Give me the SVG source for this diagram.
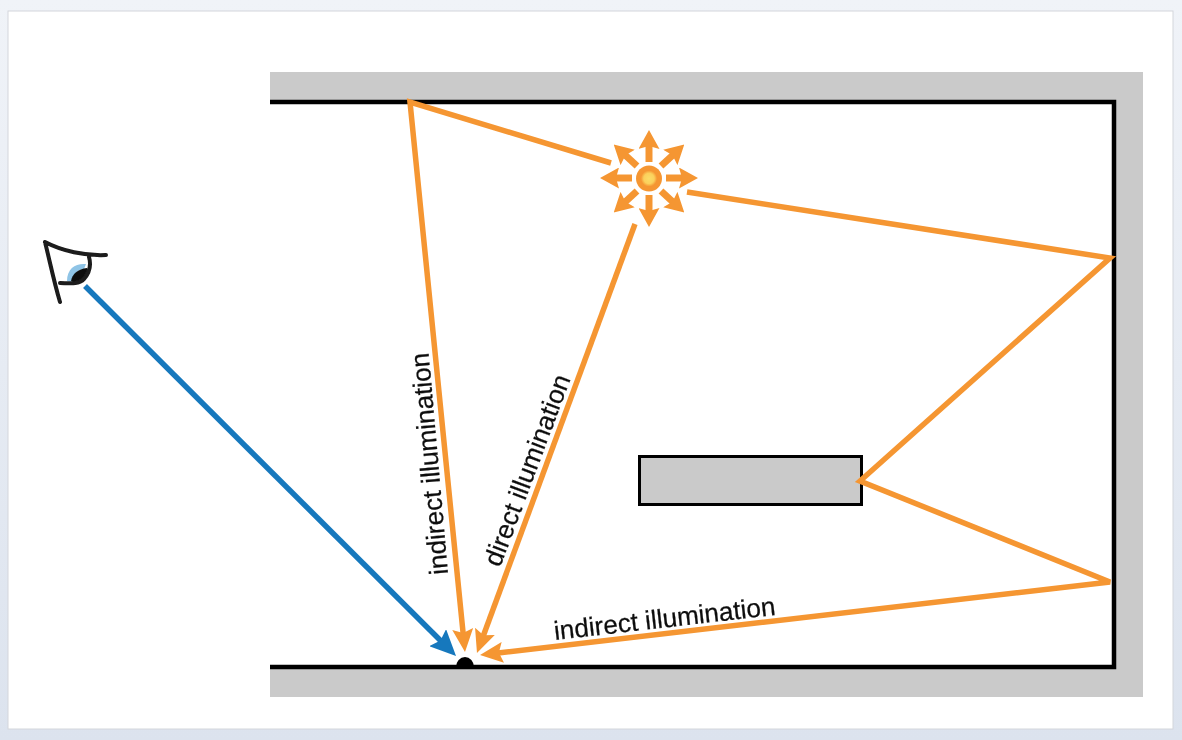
<svg xmlns="http://www.w3.org/2000/svg" width="1182" height="740" viewBox="0 0 1182 740">
<style>
.ray{fill:none;stroke:#f59632;stroke-width:5.500}
.burst{fill:none;stroke:#f59632;stroke-width:7}
.head{fill:#f59632}
.eye{fill:none;stroke:#1a1a1a;stroke-width:4;stroke-linecap:round;stroke-linejoin:round}
text{font-family:"Liberation Sans",Arial,sans-serif;font-size:26.200px;fill:#111;stroke:#111;stroke-width:0.250}
</style>
<defs>
<linearGradient id="bg" x1="0" y1="0" x2="0" y2="1"><stop offset="0" stop-color="#f0f3f8"/><stop offset="1" stop-color="#dce3ee"/></linearGradient>
<radialGradient id="core"><stop offset="0" stop-color="#fbdc68"/><stop offset="0.400" stop-color="#fbd05c"/><stop offset="0.620" stop-color="#f59632"/><stop offset="1" stop-color="#f59632"/></radialGradient>
<filter id="soft" x="-5%" y="-5%" width="110%" height="110%"><feGaussianBlur stdDeviation="0.700"/></filter>
<marker id="ah" viewBox="0 0 23 21" refX="7" refY="10.500" markerWidth="23" markerHeight="21" markerUnits="userSpaceOnUse" orient="auto"><path class="head" d="M0 0L23 10.500L0 21L4 10.500Z"/></marker>
<marker id="bh" viewBox="0 0 26 24" refX="10" refY="12" markerWidth="26" markerHeight="24" markerUnits="userSpaceOnUse" orient="auto"><path fill="#1778bd" d="M0 0L26 12L0 24L4 12Z"/></marker>
<marker id="sh" viewBox="0 0 19 21" refX="5" refY="10.500" markerWidth="19" markerHeight="21" markerUnits="userSpaceOnUse" orient="auto"><path class="head" d="M0 0L19 10.500L0 21L3 10.500Z"/></marker>
</defs>
<rect width="1182" height="740" fill="url(#bg)"/>
<rect x="8" y="11" width="1165" height="718" fill="#fff" stroke="#d3d6db" stroke-width="1"/>
<g filter="url(#soft)">
<g id="room">
<path fill="#cacaca" d="M270 72H1143V697H270V667H1114V102H270Z"/>
<path fill="none" stroke="#000" stroke-width="4.500" d="M270 102H1114V667H270"/>
</g>
<g id="object"><rect x="639.500" y="456.500" width="222" height="48" fill="#cacaca" stroke="#000" stroke-width="3"/></g>
<g id="connectors">
<path class="ray" d="M611 163L410 102L463.400 636" marker-end="url(#ah)"/>
<path class="ray" d="M635 224L482.500 638" marker-end="url(#ah)"/>
<path class="ray" d="M687 192L1110 258L860 481L1110 582L495.900 653.200" marker-end="url(#ah)"/>
<path d="M85 286L444.700 644.700" fill="none" stroke="#1778bd" stroke-width="5.500" marker-end="url(#bh)"/>
</g>
<g id="light">
<circle cx="649" cy="178.500" r="13" fill="url(#core)"/>
<g class="burst">
<path d="M649 162V144" marker-end="url(#sh)"/>
<path d="M649 195V213" marker-end="url(#sh)"/>
<path d="M632 178H614" marker-end="url(#sh)"/>
<path d="M666 178H684" marker-end="url(#sh)"/>
<path d="M637 166L624 154" marker-end="url(#sh)"/>
<path d="M661 166L674 154" marker-end="url(#sh)"/>
<path d="M637 191L624 203" marker-end="url(#sh)"/>
<path d="M661 191L674 203" marker-end="url(#sh)"/>
</g>
</g>
<g id="viewer">
<path fill="#8fc4e6" d="M67 281C67 268 76 263 86 264L84 269C76 270 73 276 73 282Z"/>
<path fill="#111" d="M71 281C72 274 78 269 87 268C90 275 84 283 77 284Z"/>
<path class="eye" d="M45 242C62 251 85 256 106 255M45 242C50 262 54 282 60 302M60 283C68 283 78 285 84 279C90 272 91 264 89 257"/>
</g>
<g id="point"><path d="M456 667A9 10 0 0 1 474 667Z" fill="#000"/></g>
<g id="labels">
<text transform="translate(448 574) rotate(-95)">indirect illumination</text>
<text transform="translate(500 568) rotate(-69.500)">direct illumination</text>
<text transform="translate(555 640) rotate(-6.500)">indirect illumination</text>
</g>
</g>
</svg>
